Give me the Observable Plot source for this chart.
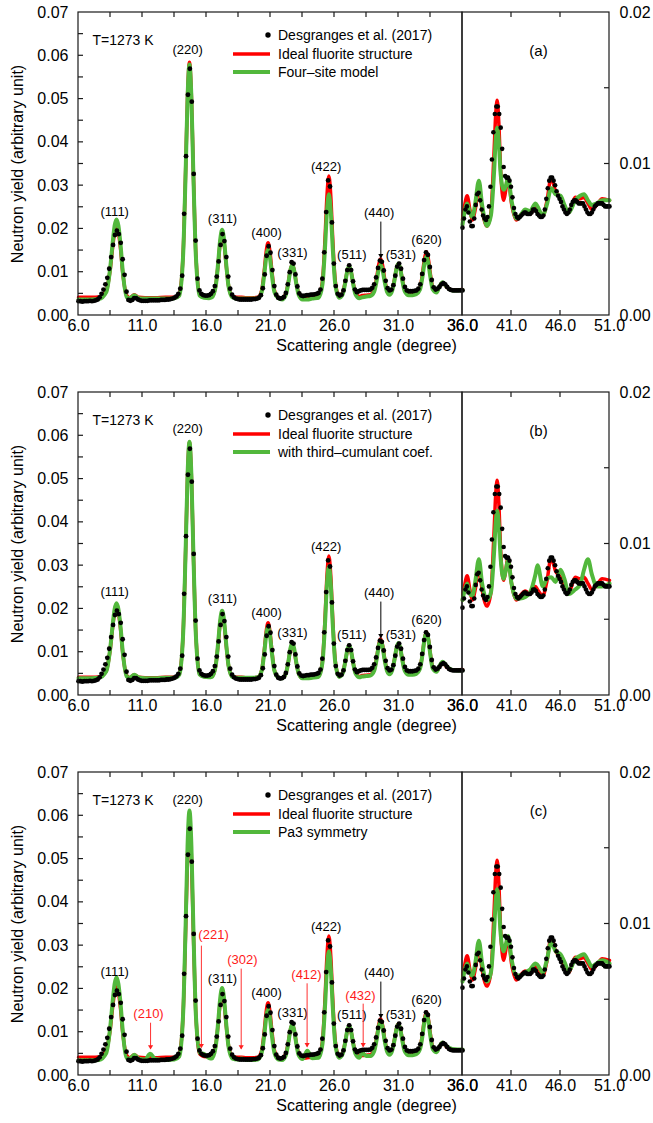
<!DOCTYPE html>
<html><head><meta charset="utf-8">
<script src="https://cdn.jsdelivr.net/npm/d3@7"></script>
<script src="https://cdn.jsdelivr.net/npm/@observablehq/plot@0.6"></script>
<style>
body{margin:0;background:#fff;}
#chart{position:relative;width:653px;height:1123px;overflow:hidden;background:#fff}
.panel{position:absolute;left:0;width:653px;height:363px}
.panel svg{position:absolute;left:0;top:0}
</style></head><body><div id="chart"></div>
<script>
const FONT = '"Liberation Sans", Arial, Helvetica, sans-serif';
const RED = "#ff0000", GREEN = "#52b83c";

// ---------- axes / ticks ----------
const xLeftLabels = [6, 11, 16, 21, 26, 31, 36];
const xLeftMinor = [8.5, 11, 13.5, 16, 18.5, 21, 23.5, 26, 28.5, 31, 33.5];
const yLeftLabels = [0, 0.01, 0.02, 0.03, 0.04, 0.05, 0.06, 0.07];
const yLeftMinor = [0.005, 0.01, 0.015, 0.02, 0.025, 0.03, 0.035, 0.04, 0.045, 0.05, 0.055, 0.06, 0.065];
const xRightLabels = [36, 41, 46, 51];
const xRightMinor = [41, 46];
const yRightLabels = [0, 0.01, 0.02];
const yRightMinor = [0.005, 0.01, 0.015];

// ---------- measured data (Desgranges et al. 2017), step 0.15 deg ----------
const dataLeftStart = 6.0, dataRightStart = 36.0, dataStep = 0.15;
const dataLeftYield = [
 0.0033,0.0033,0.0032,0.0033,0.0033,0.0033,0.0034,0.0033,0.0034,0.0035,
 0.0037,0.0042,0.0050,0.0060,0.0072,0.0087,0.0108,0.0135,0.0163,0.0186,
 0.0196,0.0188,0.0168,0.0130,0.0094,0.0055,0.0036,0.0034,0.0036,0.0040,
 0.0040,0.0037,0.0035,0.0034,0.0034,0.0034,0.0034,0.0035,0.0035,0.0035,
 0.0035,0.0035,0.0035,0.0036,0.0036,0.0036,0.0037,0.0037,0.0038,0.0039,
 0.0041,0.0044,0.0050,0.0062,0.0092,0.0235,0.0368,0.0510,0.0570,0.0494,
 0.0327,0.0173,0.0085,0.0058,0.0050,0.0047,0.0046,0.0046,0.0047,0.0050,
 0.0056,0.0068,0.0090,0.0125,0.0163,0.0188,0.0172,0.0135,0.0090,0.0062,
 0.0048,0.0042,0.0039,0.0038,0.0037,0.0037,0.0037,0.0037,0.0037,0.0037,
 0.0037,0.0038,0.0038,0.0039,0.0041,0.0047,0.0063,0.0095,0.0138,0.0160,
 0.0145,0.0105,0.0068,0.0048,0.0041,0.0039,0.0040,0.0043,0.0052,0.0072,
 0.0100,0.0123,0.0120,0.0095,0.0067,0.0051,0.0046,0.0045,0.0046,0.0047,
 0.0047,0.0048,0.0048,0.0049,0.0050,0.0052,0.0060,0.0085,0.0146,0.0239,
 0.0312,0.0298,0.0215,0.0120,0.0068,0.0050,0.0046,0.0048,0.0058,0.0080,
 0.0105,0.0116,0.0105,0.0079,0.0060,0.0054,0.0056,0.0058,0.0059,0.0059,
 0.0059,0.0059,0.0060,0.0064,0.0072,0.0088,0.0110,0.0127,0.0124,0.0104,
 0.0080,0.0063,0.0058,0.0060,0.0070,0.0092,0.0113,0.0120,0.0108,0.0085,
 0.0066,0.0058,0.0056,0.0056,0.0056,0.0057,0.0058,0.0062,0.0072,0.0096,
 0.0128,0.0146,0.0140,0.0112,0.0082,0.0065,0.0060,0.0062,0.0066,0.0072,
 0.0075,0.0072,0.0066,0.0061,0.0059,0.0058,0.0058,0.0058,0.0058,0.0058,0.0058
];
const dataRightYield = [
 0.0058,0.0064,0.0070,0.0072,0.0068,0.0062,0.0059,0.0059,0.0064,0.0073,
 0.0080,0.0081,0.0076,0.0070,0.0066,0.0064,0.0063,0.0065,0.0072,0.0085,
 0.0103,0.0121,0.0133,0.0138,0.0138,0.0133,0.0124,0.0110,0.0098,0.0092,
 0.0091,0.0091,0.0089,0.0085,0.0078,0.0071,0.0067,0.0065,0.0064,0.0065,
 0.0066,0.0067,0.0068,0.0068,0.0067,0.0067,0.0067,0.0068,0.0070,0.0070,
 0.0069,0.0067,0.0066,0.0065,0.0065,0.0066,0.0070,0.0077,0.0084,0.0089,
 0.0091,0.0091,0.0089,0.0086,0.0082,0.0079,0.0077,0.0075,0.0072,0.0070,
 0.0068,0.0067,0.0068,0.0070,0.0073,0.0075,0.0076,0.0076,0.0075,0.0074,
 0.0074,0.0074,0.0074,0.0072,0.0070,0.0068,0.0067,0.0067,0.0068,0.0070,
 0.0072,0.0073,0.0074,0.0074,0.0074,0.0074,0.0073,0.0072,0.0072,0.0072,0.0072
];

// ---------- model curves ----------
const modelLeftAngle = [6.0,7.0,7.6,8.17,8.47,8.67,8.82,8.97,9.12,9.27,9.47,9.77,10.0,10.36,10.7,11.2,11.6,12.0,12.8,13.5,
 13.87,14.17,14.37,14.52,14.67,14.82,14.97,15.17,15.47,15.8,16.2,16.42,16.72,16.92,17.07,17.22,17.37,17.52,17.72,18.02,
 18.4,18.74,19.1,19.6,20.01,20.31,20.51,20.66,20.81,20.96,21.11,21.31,21.61,21.9,22.2,22.4,22.55,22.7,22.85,23.0,
 23.2,23.5,23.88,24.25,24.76,25.06,25.26,25.41,25.56,25.71,25.86,26.06,26.36,26.64,26.84,26.99,27.14,27.29,27.44,27.64,
 27.94,28.15,28.5,28.8,29.1,29.3,29.45,29.6,29.75,29.9,30.1,30.3,30.49,30.69,30.84,30.99,31.14,31.29,31.49,31.79,
 32.1,32.38,32.68,32.88,33.03,33.18,33.33,33.48,33.68,33.98,34.2,34.45,34.75,35.2,35.6,36.0];
const redLeft = [.0042,.0042,.0043,
 .0057,.0105,.0158,.0192,.0205,.0192,.0158,.0095,.0046,
 .0041,.0048,.0042,
 .0041,.0041,.0041,.0042,.0042,
 .0050,.0141,.0335,.0507,.0585,.0507,.0335,.0141,.0050,
 .0044,.0043,
 .0044,.0069,.0122,.0169,.0190,.0169,.0122,.0069,.0044,
 .0042,.0042,.0041,.0041,
 .0042,.0058,.0103,.0147,.0168,.0147,.0103,.0058,.0042,
 .0040,.0051,.0078,.0105,.0118,.0105,.0078,.0051,.0040,
 .0041,.0042,
 .0044,.0080,.0178,.0276,.0322,.0276,.0178,.0080,.0044,
 .0053,.0078,.0102,.0114,.0102,.0078,.0053,.0044,
 .0046,.0047,
 .0048,.0059,.0088,.0117,.0131,.0117,.0088,.0059,.0051,
 .0059,.0084,.0108,.0120,.0108,.0084,.0059,.0050,
 .0050,
 .0052,.0064,.0098,.0131,.0147,.0131,.0098,.0064,.0056,
 .0067,.0076,.0066,.0059,.0059,.0060];
const greenLeftA = [.0037,.0037,.0038,
 .0054,.0108,.0168,.0207,.0222,.0207,.0168,.0098,.0042,
 .0040,.0047,.0040,
 .0039,.0039,.0039,.0039,.0040,
 .0046,.0137,.0331,.0503,.0580,.0503,.0331,.0137,.0046,
 .0041,.0040,
 .0042,.0068,.0125,.0175,.0198,.0175,.0125,.0068,.0042,
 .0039,.0039,.0039,.0039,
 .0040,.0054,.0094,.0133,.0152,.0133,.0094,.0054,.0040,
 .0037,.0048,.0076,.0104,.0117,.0104,.0076,.0048,.0037,
 .0037,.0039,
 .0041,.0072,.0157,.0240,.0280,.0240,.0157,.0072,.0041,
 .0049,.0076,.0102,.0115,.0102,.0076,.0049,.0040,
 .0042,.0044,
 .0045,.0055,.0081,.0106,.0118,.0106,.0081,.0055,.0048,
 .0056,.0082,.0108,.0120,.0108,.0082,.0056,.0047,
 .0047,
 .0049,.0060,.0091,.0121,.0136,.0121,.0091,.0060,.0053,
 .0067,.0077,.0067,.0058,.0058,.0059];
const greenLeftB = [.0040,.0040,.0041,
 .0056,.0107,.0163,.0199,.0213,.0199,.0163,.0097,.0044,
 .0041,.0048,.0042,
 .0040,.0040,.0040,.0041,.0041,
 .0048,.0139,.0335,.0508,.0586,.0508,.0335,.0139,.0048,
 .0043,.0042,
 .0043,.0069,.0125,.0174,.0196,.0174,.0125,.0069,.0043,
 .0041,.0041,.0041,.0041,
 .0042,.0057,.0098,.0139,.0158,.0139,.0098,.0057,.0042,
 .0040,.0051,.0079,.0108,.0121,.0108,.0079,.0051,.0040,
 .0040,.0041,
 .0043,.0076,.0166,.0256,.0298,.0256,.0166,.0076,.0043,
 .0051,.0078,.0104,.0116,.0104,.0078,.0051,.0042,
 .0044,.0045,
 .0046,.0057,.0085,.0114,.0127,.0114,.0085,.0057,.0049,
 .0057,.0083,.0109,.0121,.0109,.0083,.0057,.0048,
 .0048,
 .0050,.0062,.0096,.0130,.0146,.0130,.0096,.0062,.0055,
 .0068,.0078,.0068,.0059,.0058,.0058];
const greenLeftC = [.0035,.0035,.0036,
 .0052,.0109,.0171,.0211,.0227,.0211,.0171,.0099,.0040,
 .0039,.0048,.0039,
 .0037,.0050,.0038,.0036,.0037,
 .0044,.0140,.0347,.0530,.0612,.0530,.0347,.0140,.0052,
 .0050,.0040,
 .0039,.0067,.0126,.0178,.0202,.0178,.0126,.0067,.0039,
 .0037,.0039,.0036,.0036,
 .0037,.0052,.0092,.0133,.0152,.0133,.0092,.0052,.0037,
 .0036,.0047,.0076,.0105,.0119,.0105,.0076,.0047,.0038,
 .0057,.0040,
 .0041,.0073,.0160,.0246,.0287,.0246,.0160,.0073,.0041,
 .0050,.0077,.0103,.0116,.0103,.0077,.0050,.0041,
 .0052,.0045,
 .0045,.0056,.0084,.0112,.0125,.0112,.0084,.0056,.0048,
 .0056,.0082,.0107,.0119,.0107,.0082,.0056,.0047,
 .0047,
 .0049,.0061,.0093,.0126,.0141,.0126,.0093,.0061,.0054,
 .0067,.0076,.0068,.0061,.0060,.0060];

const modelRightAngle = [36.0,36.2,36.48,36.75,37.0,37.3,37.67,38.0,38.5,38.9,39.2,39.4,39.54,39.7,39.9,40.2,40.4,40.65,41.0,41.5,
 41.9,42.4,42.9,43.45,43.65,44.2,44.6,45.05,45.5,46.0,46.4,46.85,47.5,48.0,48.4,48.8,49.2,49.7,50.25,51.0];
const redRight = [.0063,.0072,.0079,.0070,.0063,.0070,.0085,.0070,.0059,.0068,.0105,.0134,.0142,.0128,.0095,.0076,.0082,.0091,.0074,.0063,
 .0066,.0069,.0067,.0072,.0070,.0066,.0075,.0091,.0082,.0078,.0072,.0068,.0078,.0077,.0078,.0074,.0070,.0073,.0077,.0076];
const greenRightA = [.0060,.0068,.0074,.0068,.0065,.0074,.0089,.0073,.0059,.0066,.0092,.0117,.0124,.0115,.0093,.0083,.0085,.0091,.0076,.0064,
 .0066,.0070,.0069,.0074,.0072,.0066,.0073,.0084,.0080,.0079,.0073,.0068,.0076,.0079,.0080,.0076,.0073,.0074,.0076,.0076];
const greenRightB = [.0063,.0069,.0074,.0067,.0066,.0075,.0090,.0074,.0063,.0068,.0092,.0115,.0122,.0113,.0090,.0077,.0082,.0089,.0074,.0064,
 .0064,.0065,.0068,.0080,.0086,.0072,.0077,.0078,.0075,.0083,.0077,.0067,.0070,.0073,.0083,.0090,.0080,.0072,.0072,.0074];
const greenRightC = [.0062,.0069,.0074,.0068,.0066,.0074,.0089,.0074,.0062,.0068,.0093,.0116,.0123,.0114,.0093,.0082,.0086,.0092,.0077,.0066,
 .0066,.0068,.0070,.0074,.0073,.0068,.0076,.0088,.0082,.0080,.0075,.0069,.0077,.0079,.0080,.0076,.0072,.0074,.0076,.0074];

// ---------- annotations ----------
const panelTags = ["(a)", "(b)", "(c)"];
const greenNames = ["Four\u2013site model", "with third\u2013cumulant coef.", "Pa3 symmetry"];
const peakNames = ["(111)","(220)","(311)","(400)","(331)","(422)","(511)","(440)","(531)","(620)"];
const peakLabelAngle = [8.83, 14.52, 17.25, 20.69, 22.72, 25.34, 27.35, 29.49, 31.18, 33.19];
const peakLabelYield = [0.0240, 0.0614, 0.0223, 0.0191, 0.0145, 0.0343, 0.0141, 0.0238, 0.0141, 0.0175];
const label220Yield = [0.0614, 0.0617, 0.0637];
const arrow440Angle = 29.62, arrow440Top = 0.0217, arrow440Tip = 0.0134;
const pa3Names = ["(210)","(221)","(302)","(412)","(432)"];
const pa3LabelAngle = [11.47, 16.55, 18.8, 23.81, 28.03];
const pa3LabelYield = [0.0143, 0.0326, 0.0268, 0.0233, 0.0185];
const pa3ArrowAngle = [11.63, 15.6, 18.71, 23.86, 28.24];
const pa3ArrowTop = [0.0122, 0.0300, 0.0247, 0.0213, 0.0166];
const pa3ArrowTip = [0.0062, 0.0065, 0.0062, 0.0067, 0.0067];

const greenLeft = [greenLeftA, greenLeftB, greenLeftC];
const greenRight = [greenRightA, greenRightB, greenRightC];

[redLeft, greenLeftA, greenLeftB, greenLeftC].forEach(a => { if (a.length !== modelLeftAngle.length) throw new Error("left len " + a.length + " vs " + modelLeftAngle.length); });
[redRight, greenRightA, greenRightB, greenRightC].forEach(a => { if (a.length !== modelRightAngle.length) throw new Error("right len " + a.length); });
if (dataLeftYield.length !== 201 || dataRightYield.length !== 101) throw new Error("data len " + dataLeftYield.length + " " + dataRightYield.length);

const dataLeft = dataLeftYield.map((v, i) => ({a: dataLeftStart + i * dataStep, v}));
const dataRight = dataRightYield.map((v, i) => ({a: dataRightStart + i * dataStep, v}));

function frameMark(xTicks, yTicks, side) {
  return (index, scales, values, dims) => {
    const {x, y} = scales;
    const L = dims.marginLeft, R = dims.width - dims.marginRight, T = dims.marginTop, B = dims.height - dims.marginBottom;
    const g = d3.create("svg:g").attr("fill", "none").attr("stroke", "#1a1a1a").attr("stroke-width", 1.2);
    g.append("rect").attr("x", L).attr("y", T).attr("width", R - L).attr("height", B - T);
    const tk = 5;
    for (const t of xTicks) {
      const px = x(t);
      g.append("line").attr("x1", px).attr("x2", px).attr("y1", B).attr("y2", B - tk);
      g.append("line").attr("x1", px).attr("x2", px).attr("y1", T).attr("y2", T + tk);
    }
    for (const t of yTicks) {
      const py = y(t);
      if (side === "left") g.append("line").attr("x1", L).attr("x2", L + tk).attr("y1", py).attr("y2", py);
      else g.append("line").attr("x1", R).attr("x2", R - tk).attr("y1", py).attr("y2", py);
    }
    return g.node();
  };
}

function legendMark(greenName) {
  return (index, scales, values, dims) => {
    const L = dims.marginLeft, T = dims.marginTop;
    const g = d3.create("svg:g").attr("font-family", FONT).attr("font-size", 14).attr("text-anchor", "start");
    g.append("circle").attr("cx", L + 190).attr("cy", T + 23).attr("r", 2.7).attr("fill", "#000");
    g.append("line").attr("x1", L + 155).attr("x2", L + 192).attr("y1", T + 42).attr("y2", T + 42).attr("stroke", RED).attr("stroke-width", 3.5);
    g.append("line").attr("x1", L + 155).attr("x2", L + 192).attr("y1", T + 60).attr("y2", T + 60).attr("stroke", GREEN).attr("stroke-width", 4);
    const labels = ["Desgranges et al. (2017)", "Ideal fluorite structure", greenName];
    [23, 42, 60].forEach((dy, i) => {
      g.append("text").attr("x", L + 200).attr("y", T + dy).attr("dy", "0.35em").attr("text-anchor", "start").attr("fill", "#000").text(labels[i]);
    });
    return g.node();
  };
}

const chart = document.getElementById("chart");
const svgStyle = {background: "none", overflow: "visible", fontFamily: FONT, fontSize: "16px", color: "#000"};

for (let k = 0; k < 3; k++) {
  const div = document.createElement("div");
  div.className = "panel";
  div.style.top = (k * 380) + "px";
  chart.appendChild(div);

  const leftRows = modelLeftAngle.map((a, i) => ({a, red: redLeft[i], green: greenLeft[k][i]}));
  const rightRows = modelRightAngle.map((a, i) => ({a, red: redRight[i], green: greenRight[k][i]}));
  const peakRows = peakNames.map((t, i) => ({t, a: peakLabelAngle[i], v: i === 1 ? label220Yield[k] : peakLabelYield[i]}));

  const leftMarks = [
    Plot.line(leftRows, {x: "a", y: "red", stroke: RED, strokeWidth: 3.5, curve: "monotone-x"}),
    Plot.line(leftRows, {x: "a", y: "green", stroke: GREEN, strokeWidth: 4, curve: "monotone-x"}),
    Plot.dot(dataLeft, {x: "a", y: "v", r: 2.4, fill: "#000"}),
    frameMark(xLeftMinor, yLeftMinor, "left"),
    Plot.axisX({ticks: xLeftLabels, tickSize: 0, tickPadding: 4, tickFormat: d3.format(".1f"), label: null, fontSize: 16}),
    Plot.axisY({ticks: yLeftLabels, tickSize: 0, tickPadding: 10, tickFormat: d3.format(".2f"), label: null, fontSize: 16}),
    Plot.text(peakRows, {x: "a", y: "v", text: "t", fontSize: 13, fill: "#000"}),
    Plot.link([0], {x1: () => arrow440Angle, x2: () => arrow440Angle, y1: () => arrow440Top, y2: () => arrow440Tip, stroke: "#000", strokeWidth: 1}),
    Plot.dot([0], {x: () => arrow440Angle, y: () => arrow440Tip, symbol: "triangle", rotate: 180, r: 1.9, fill: "#000", stroke: "none", dy: -2}),
    Plot.text(["T=1273 K"], {frameAnchor: "top-left", dx: 14, dy: 23, textAnchor: "start", fontSize: 14, fill: "#000"}),
    Plot.text(["Neutron yield (arbitrary unit)"], {frameAnchor: "left", dx: -61, rotate: -90, textAnchor: "middle", fontSize: 16, fill: "#000"}),
    Plot.text(["Scattering angle (degree)"], {frameAnchor: "bottom-left", dx: 288, dy: 35, textAnchor: "middle", fontSize: 16, fill: "#000"}),
    legendMark(greenNames[k])
  ];
  if (k === 2) {
    const pa3 = pa3Names.map((t, i) => ({t, la: pa3LabelAngle[i], lv: pa3LabelYield[i], aa: pa3ArrowAngle[i], top: pa3ArrowTop[i], tip: pa3ArrowTip[i]}));
    leftMarks.push(
      Plot.link(pa3, {x1: "aa", x2: "aa", y1: "top", y2: "tip", stroke: "#ff3030", strokeWidth: 1}),
      Plot.dot(pa3, {x: "aa", y: "tip", symbol: "triangle", rotate: 180, r: 1.9, fill: "#ff2020", stroke: "none", dy: -2}),
      Plot.text(pa3, {x: "la", y: "lv", text: "t", fontSize: 13, fill: "#ff1a1a"})
    );
  }

  const left = Plot.plot({
    width: 653, height: 363,
    marginLeft: 78, marginRight: 191, marginTop: 12, marginBottom: 48,
    style: svgStyle,
    x: {domain: [6, 36]},
    y: {domain: [0, 0.07]},
    marks: leftMarks
  });

  const right = Plot.plot({
    width: 653, height: 363,
    marginLeft: 462, marginRight: 44, marginTop: 12, marginBottom: 48,
    style: svgStyle,
    x: {domain: [36, 51]},
    y: {domain: [0, 0.02]},
    marks: [
      Plot.line(rightRows, {x: "a", y: "red", stroke: RED, strokeWidth: 3.5, curve: "monotone-x"}),
      Plot.line(rightRows, {x: "a", y: "green", stroke: GREEN, strokeWidth: 4, curve: "monotone-x"}),
      Plot.dot(dataRight, {x: "a", y: "v", r: 2.3, fill: "#000"}),
      frameMark(xRightMinor, yRightMinor, "right"),
      Plot.axisX({ticks: xRightLabels, tickSize: 0, tickPadding: 4, tickFormat: d3.format(".1f"), label: null, fontSize: 16}),
      Plot.axisY({anchor: "right", ticks: yRightLabels, tickSize: 0, tickPadding: 10, tickFormat: d3.format(".2f"), label: null, fontSize: 16}),
      Plot.text([panelTags[k]], {frameAnchor: "top-left", dx: 76, dy: 33, textAnchor: "middle", fontSize: 15, fill: "#000"})
    ]
  });

  div.appendChild(left);
  div.appendChild(right);
}
</script></body></html>
